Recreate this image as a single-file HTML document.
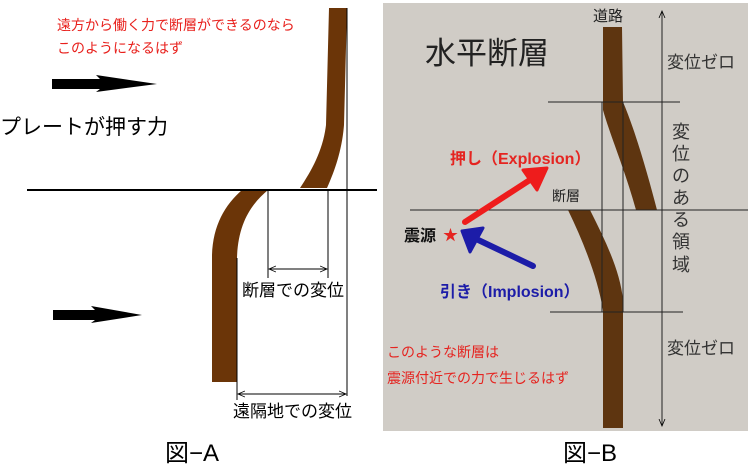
<!DOCTYPE html>
<html><head><meta charset="utf-8"><style>
body{margin:0;width:748px;height:472px;background:#fff;overflow:hidden;font-family:"Liberation Sans","Noto Sans CJK JP",sans-serif}
svg{position:absolute;left:0;top:0}
text{font-family:"Liberation Sans","Noto Sans CJK JP",sans-serif}
</style></head><body>
<svg width="748" height="472" viewBox="0 0 748 472">
<defs>
<marker id="ah" markerWidth="8" markerHeight="8" refX="7" refY="4" orient="auto-start-reverse" markerUnits="userSpaceOnUse"><path d="M0,1 L7,4 L0,7" fill="none" stroke="#000" stroke-width="0.8"/></marker>
</defs>
<!-- Figure A -->
<text x="57" y="30" font-size="14" fill="#e8201c">遠方から働く力で断層ができるのなら</text>
<text x="57" y="53" font-size="14" fill="#e8201c">このようになるはず</text>
<path d="M329,8 L347,8 L344,125 C342,150 335,170 327,188 L300,188 C312,170 323,150 326,125 Z" fill="#6b3508"/>
<path d="M242,190 L268,190 C250,205 238,225 237,258 L237,382 L212,382 L212,255 C213,225 225,205 242,190 Z" fill="#6b3508"/>
<line x1="27" y1="190" x2="377" y2="190" stroke="#000" stroke-width="2"/>
<path d="M52,79 L100,79 L96,75 L157,84 L96,92 L100,89 L52,89 Z" fill="#000"/>
<path d="M53,310 L95,310 L91,306 L142,315 L91,323 L95,320 L53,320 Z" fill="#000"/>
<text x="0" y="134" font-size="21" fill="#000">プレートが押す力</text>
<g stroke="#000" stroke-width="1">
<line x1="268" y1="190" x2="268" y2="278"/>
<line x1="328" y1="190" x2="328" y2="278"/>
<line x1="347" y1="8" x2="347" y2="396"/>
<line x1="237" y1="258" x2="237" y2="400"/>
<line x1="269" y1="269" x2="327" y2="269" marker-start="url(#ah)" marker-end="url(#ah)"/>
<line x1="238" y1="394" x2="346" y2="394" marker-start="url(#ah)" marker-end="url(#ah)"/>
</g>
<text x="242" y="296" font-size="17" fill="#000">断層での変位</text>
<text x="233" y="417" font-size="17" fill="#000">遠隔地での変位</text>
<text x="165" y="461" font-size="24" fill="#000">図−A</text>
<!-- Figure B -->
<rect x="383" y="3" width="365" height="428" fill="#d0ccc6"/>
<text x="593" y="21" font-size="15" fill="#222">道路</text>
<text x="425" y="64" font-size="31" fill="#222">水平断層</text>
<path d="M603,27 L622,27 L623,102 C635,130 648,175 657,210 L636,210 C625,170 610,135 603,110 Z" fill="#5e3510"/>
<path d="M568,210 L590,210 C605,240 620,270 623,300 L623,428 L603,428 L603,310 C598,280 585,245 568,210 Z" fill="#5e3510"/>
<g stroke="#222" stroke-width="1">
<line x1="548" y1="102" x2="680" y2="102"/>
<line x1="410" y1="210" x2="748" y2="210"/>
<line x1="550" y1="312" x2="683" y2="312"/>
<line x1="602" y1="102" x2="602" y2="312"/>
<line x1="623" y1="102" x2="623" y2="312"/>
<line x1="662" y1="11" x2="662" y2="426" marker-start="url(#ah)" marker-end="url(#ah)"/>
<line x1="659" y1="102" x2="665" y2="102"/>
<line x1="659" y1="312" x2="665" y2="312"/>
</g>
<text x="667" y="68" font-size="17" fill="#333">変位ゼロ</text>
<text x="667" y="354" font-size="17" fill="#333">変位ゼロ</text>
<g font-size="18" fill="#333">
<text x="672" y="138">変</text><text x="672" y="160">位</text><text x="672" y="182">の</text>
<text x="672" y="204">あ</text><text x="672" y="226">る</text><text x="672" y="248">領</text><text x="672" y="271">域</text>
</g>
<text x="450" y="164" font-size="16" font-weight="bold" fill="#e52420">押し（Explosion）</text>
<line x1="465" y1="222" x2="536" y2="176" stroke="#ee1c1c" stroke-width="6" stroke-linecap="round"/>
<path d="M523,170 L547,168 L537,190 Z" fill="#ee1c1c" stroke="#ee1c1c" stroke-width="3" stroke-linejoin="round"/>
<text x="552" y="201" font-size="14" fill="#222">断層</text>
<text x="404" y="241" font-size="16" font-weight="bold" fill="#111">震源</text>
<text x="443" y="240" font-size="15" fill="#e52420">★</text>
<line x1="533" y1="266" x2="472" y2="237" stroke="#1c1ca8" stroke-width="6" stroke-linecap="round"/>
<path d="M462,231 L470,252 L483,228 Z" fill="#1c1ca8" stroke="#1c1ca8" stroke-width="3" stroke-linejoin="round"/>
<text x="440" y="297" font-size="16" font-weight="bold" fill="#1c1ca8">引き（Implosion）</text>
<text x="387" y="357" font-size="14" fill="#e52420">このような断層は</text>
<text x="387" y="383" font-size="14" fill="#e52420">震源付近での力で生じるはず</text>
<text x="563" y="461" font-size="24" fill="#000">図−B</text>
</svg>
</body></html>
